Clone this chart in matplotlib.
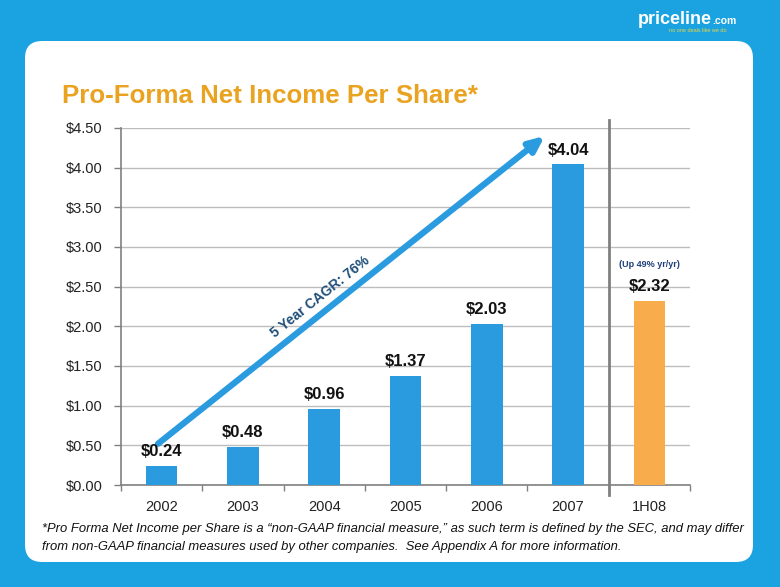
import matplotlib
matplotlib.use("Agg")
import matplotlib.pyplot as plt
from matplotlib.patches import FancyBboxPatch

categories = ["2002", "2003", "2004", "2005", "2006", "2007", "1H08"]
values = [0.24, 0.48, 0.96, 1.37, 2.03, 4.04, 2.32]
value_labels = ["$0.24", "$0.48", "$0.96", "$1.37", "$2.03", "$4.04", "$2.32"]
yticks = [0.0, 0.5, 1.0, 1.5, 2.0, 2.5, 3.0, 3.5, 4.0, 4.5]
ytick_labels = ["$0.00", "$0.50", "$1.00", "$1.50", "$2.00", "$2.50", "$3.00", "$3.50", "$4.00", "$4.50"]
bar_colors = ["#2B9BE0"] * 6 + ["#F9AC4C"]

plt.rcParams['font.family'] = ['Liberation Sans', 'DejaVu Sans']

W, H = 780, 587
fig = plt.figure(figsize=(7.8, 5.87), dpi=100)
fig.patch.set_facecolor("#1AA3E0")

# white rounded panel
panel = FancyBboxPatch((25 / W, 1 - 562 / H), (753 - 25) / W, (562 - 41) / H,
                       boxstyle="round,pad=0,rounding_size=0.022",
                       transform=fig.transFigure, facecolor="white", edgecolor="none",
                       mutation_aspect=W / H, zorder=-5)
fig.patches.append(panel)

# logo
fig.text(712 / W, 1 - 19 / H, "priceline", color="white", fontsize=13, fontweight="bold",
         ha="right", va="center")
fig.text(712 / W, 1 - 21 / H, ".com", color="white", fontsize=7.5, fontweight="bold",
         ha="left", va="center")
fig.text(727 / W, 1 - 30 / H, "no one deals like we do", color="#E8D44A", fontsize=4,
         ha="right", va="center")

# title
fig.text(62 / W, 1 - 96 / H, "Pro-Forma Net Income Per Share*", color="#E9A320",
         fontsize=18.6, fontweight="bold", ha="left", va="center")

ax = fig.add_axes([121 / W, 1 - 485 / H, (690 - 121) / W, (485 - 128) / H])
ax.set_zorder(2)
ax.set_facecolor("none")
x = list(range(len(categories)))
ax.bar(x, values, width=0.39, color=bar_colors, zorder=3)
ax.set_xlim(-0.5, 6.5)
ax.set_ylim(0, 4.5)
ax.set_yticks(yticks)
ax.set_yticklabels(ytick_labels, fontsize=10.5, color="#222222")
ax.yaxis.grid(True, color="#BDBDBD", linewidth=1, zorder=0)
ax.set_axisbelow(True)
ax.set_xticks([i + 0.5 for i in range(-1, 7)])
ax.set_xticklabels([])
ax.set_xticks(x, minor=True)
ax.set_xticklabels(categories, minor=True, fontsize=10.5, color="#222222")
ax.tick_params(axis="x", which="minor", length=0, pad=11)
ax.tick_params(axis="x", which="major", length=4, color="#808080", width=1)
ax.tick_params(axis="y", length=5, color="#808080", width=1, pad=8)
for s in ["top", "right"]:
    ax.spines[s].set_visible(False)
for s in ["left", "bottom"]:
    ax.spines[s].set_color("#808080")
    ax.spines[s].set_linewidth(1.2)

# separator line
ax.plot([5.5, 5.5], [-0.12, 4.6], color="#808080", linewidth=2, clip_on=False, zorder=4)

for xi, v, lab in zip(x, values, value_labels):
    ax.annotate(lab, (xi, v), xytext=(0, 5), textcoords="offset points",
                ha="center", va="bottom", fontsize=12, fontweight="bold", color="#111111",
                zorder=6)

ax.annotate("(Up 49% yr/yr)", (6, values[6]), xytext=(0, 23), textcoords="offset points",
            ha="center", va="bottom", fontsize=6.5, fontweight="bold", color="#1F3F7A")

# CAGR arrow
ax.annotate("", xy=(4.715, 4.40), xytext=(-0.045, 0.52),
            arrowprops=dict(arrowstyle="-|>,head_length=0.9,head_width=0.4",
                            color="#2B9BE0", lw=4.5, shrinkA=0, shrinkB=0),
            zorder=5)
ax.text(1.95, 2.37, "5 Year CAGR: 76%", rotation=38.5, rotation_mode="anchor",
        ha="center", va="center", fontsize=10, fontweight="bold", color="#1F4E79",
        transform=ax.transData)

# footnote
foot_family = ['Liberation Sans Narrow', 'Liberation Sans', 'DejaVu Sans']
fig.text(42 / W, 1 - 529 / H,
         "*Pro Forma Net Income per Share is a \u201cnon-GAAP financial measure,\u201d as such term is defined by the SEC, and may differ",
         fontsize=9.4, style="italic", family=foot_family, color="#111111", ha="left", va="center")
fig.text(42 / W, 1 - 547 / H,
         "from non-GAAP financial measures used by other companies.  See Appendix A for more information.",
         fontsize=9.4, style="italic", family=foot_family, color="#111111", ha="left", va="center")

fig.savefig("out.png", dpi=100, facecolor=fig.get_facecolor())
